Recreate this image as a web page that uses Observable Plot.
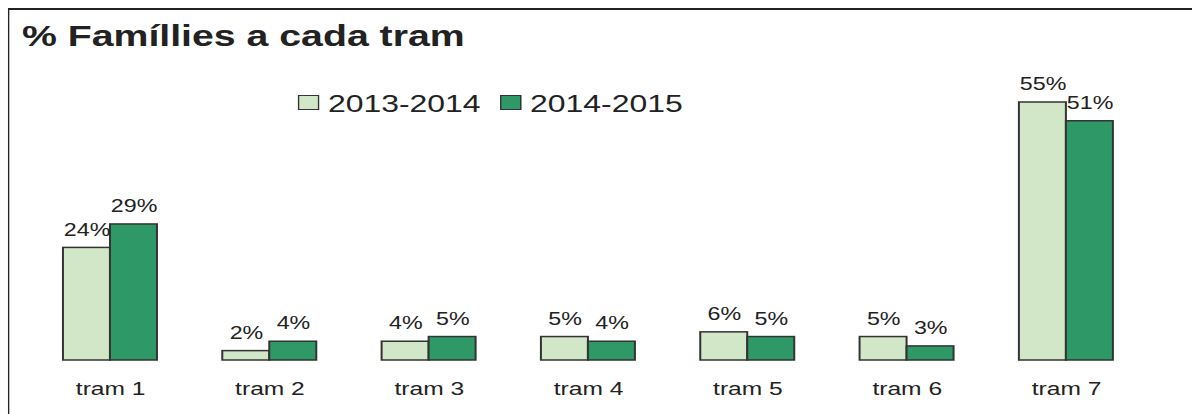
<!DOCTYPE html>
<html>
<head>
<meta charset="utf-8">
<script src="https://cdn.jsdelivr.net/npm/d3@7"></script>
<script src="https://cdn.jsdelivr.net/npm/@observablehq/plot@0.6"></script>
<style>
  html, body { margin: 0; padding: 0; background: #fff; overflow: hidden; }
  body { width: 1192px; height: 414px; position: relative; font-family: "Liberation Sans", Arial, sans-serif; color: #222; }
  #wrap { position: absolute; left: 0; top: 0; width: 896.24px; height: 414px; transform: scaleX(1.33); transform-origin: 0 0; }
  #frame { position: absolute; left: 6px; top: 7.5px; width: 2000px; height: 1000px; border-top: 2px solid #222; border-left: 1.5px solid #222; }
  #chart { position: absolute; left: 0; top: 0; }
  #title { position: absolute; left: 16.5px; top: 20.5px; font-size: 29.5px; line-height: 1; font-weight: bold; white-space: nowrap; }
  .sw { position: absolute; top: 94.5px; width: 14px; height: 13px; border: 1.2px solid #333; }
  .lt { position: absolute; top: 91.7px; font-size: 24px; line-height: 1; white-space: nowrap; }
</style>
</head>
<body>
<div id="wrap">
  <div id="frame"></div>
  <div id="chart"></div>
  <div id="title">% Famíllies a cada tram</div>
  <div id="legend"></div>
</div>
<script>
const trams = ["tram 1", "tram 2", "tram 3", "tram 4", "tram 5", "tram 6", "tram 7"];
const series = ["2013-2014", "2014-2015"];
const v2013 = [24, 2, 4, 5, 6, 5, 55];
const v2014 = [29, 4, 5, 4, 5, 3, 51];
const colors = ["#d2e7c8", "#2e9966"];

const data = [];
trams.forEach((t, i) => {
  data.push({tram: t, series: series[0], value: v2013[i]});
  data.push({tram: t, series: series[1], value: v2014[i]});
});

const chart = Plot.plot({
  width: 896,
  height: 414,
  marginLeft: 11.4,
  marginRight: 23.3,
  marginTop: 102,
  marginBottom: 54,
  style: {fontFamily: "'Liberation Sans', Arial, sans-serif", background: "transparent", overflow: "visible"},
  fx: {domain: trams, paddingInner: 0.41, paddingOuter: 0.3, round: false, label: null},
  x: {domain: series, padding: 0, round: false, axis: null},
  y: {domain: [0, 55], axis: null},
  color: {domain: series, range: colors},
  marks: [
    Plot.barY(data, {fx: "tram", x: "series", y: "value", fill: "series", stroke: "#333", strokeWidth: 1.5}),
    Plot.text(data, {fx: "tram", x: "series", y: "value", text: d => d.value + "%", dy: -18, fontSize: 17.5, fill: "#222"}),
    Plot.axisFx({anchor: "bottom", tickSize: 0, tickPadding: 21, fontSize: 18.5, label: null, fill: "#222"})
  ]
});
document.getElementById("chart").appendChild(chart);

// legend
const legend = document.getElementById("legend");
const swLeft = [224, 376];
const txLeft = [246.6, 398.5];
series.forEach((s, i) => {
  const sw = document.createElement("div");
  sw.className = "sw";
  sw.style.left = swLeft[i] + "px";
  sw.style.background = colors[i];
  legend.appendChild(sw);
  const tx = document.createElement("div");
  tx.className = "lt";
  tx.style.left = txLeft[i] + "px";
  tx.textContent = s;
  legend.appendChild(tx);
});
</script>
</body>
</html>
